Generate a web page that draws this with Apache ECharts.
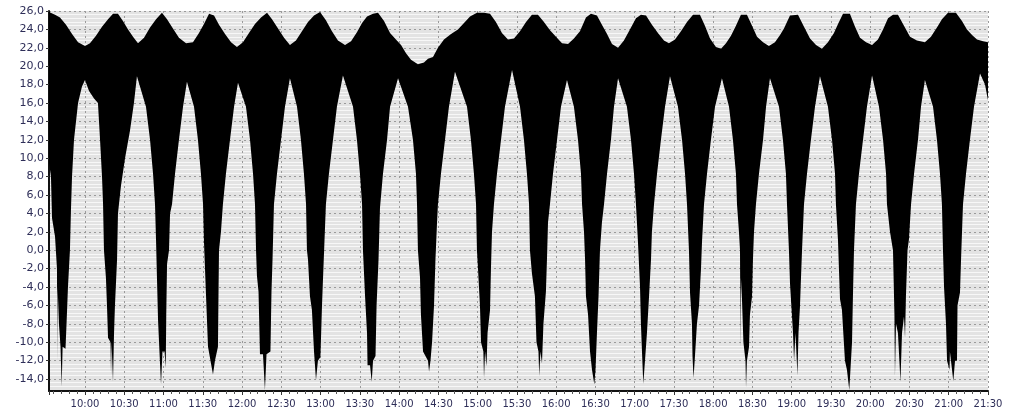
<!DOCTYPE html>
<html>
<head>
<meta charset="utf-8">
<script src="https://cdn.jsdelivr.net/npm/echarts@6/dist/echarts.min.js"></script>
<style>
  html, body { margin: 0; padding: 0; background: #fff; }
  #chart { width: 1013px; height: 413px; }
</style>
</head>
<body>
<div id="chart"></div>
<script>
// time in minutes after midnight, value of the signal envelope
const upperTime = [
  572.5, 577.1, 580.9, 585.5, 590.1, 594.7, 600.0,
  603.8, 608.4, 613.0, 617.6, 621.4, 625.2, 629.0, 632.9, 636.7, 640.5,
  645.1, 649.7, 654.3, 658.8, 662.7, 667.2, 671.8, 677.2,
  682.5, 687.1, 690.9, 694.8, 698.6, 702.4, 707.0, 711.6, 716.1,
  720.7, 725.3, 729.9, 734.5, 739.1, 742.9, 747.5, 752.1, 756.6,
  761.2, 765.8, 770.4, 775.0, 779.6, 784.1, 788.7, 793.3, 798.7,
  803.3, 807.8, 811.7, 815.5, 820.1, 823.9, 828.5, 833.1, 837.6, 841.5, 845.3, 849.1, 854.4,
  859.0, 862.1, 865.9, 869.7, 874.3, 879.7, 885.0, 889.6, 894.2, 899.5,
  904.9, 909.5, 914.0, 918.6, 923.2, 927.8, 932.4, 937.0, 941.5, 946.1,
  950.7, 955.3, 959.9, 964.5, 969.1, 973.6, 978.2, 982.8, 986.6, 991.2,
  995.0, 998.9, 1002.7, 1007.3, 1011.8, 1016.4, 1021.0, 1024.8, 1028.7,
  1033.2, 1037.8, 1042.4, 1046.2, 1050.8, 1055.4, 1060.0, 1064.6, 1069.9,
  1073.7, 1077.6, 1082.1, 1086.0, 1089.8, 1093.6, 1097.4, 1101.2, 1105.8,
  1109.7, 1113.5, 1118.1, 1122.6, 1127.2, 1131.1, 1134.1, 1138.7, 1144.8,
  1149.4, 1154.0, 1158.6, 1163.1, 1167.7, 1172.3, 1175.4, 1179.2, 1184.5,
  1188.4, 1192.2, 1196.8, 1201.4, 1205.9, 1209.8, 1213.6, 1217.4, 1221.2,
  1225.8, 1230.4, 1235.7, 1241.8, 1246.4, 1251.0, 1254.8, 1259.4, 1265.5,
  1270.1, 1273.9, 1277.8, 1281.6, 1286.2, 1290.0
]
const upperValue = [
  25.9, 25.6, 25.3, 24.5, 23.5, 22.6, 22.2,
  22.5, 23.3, 24.3, 25.1, 25.7, 25.7, 24.9, 24.0, 23.2, 22.5,
  23.1, 24.2, 25.1, 25.8, 25.1, 24.1, 23.1, 22.5,
  22.6, 23.6, 24.6, 25.7, 25.5, 24.5, 23.5, 22.6, 22.1,
  22.6, 23.6, 24.6, 25.3, 25.8, 25.1, 24.1, 23.1, 22.3,
  22.8, 23.8, 24.8, 25.5, 25.9, 25.0, 23.8, 22.8, 22.3,
  22.7, 23.7, 24.7, 25.4, 25.7, 25.8, 24.9, 23.6, 22.9, 22.3, 21.4, 20.7, 20.2,
  20.4, 20.8, 21.0, 22.0, 22.9, 23.5, 24.0, 24.7, 25.4, 25.8,
  25.8, 25.7, 24.8, 23.6, 22.9, 23.0, 23.8, 24.8, 25.6, 25.6,
  24.8, 23.9, 23.2, 22.5, 22.4, 23.0, 23.8, 25.3, 25.7, 25.5,
  24.5, 23.5, 22.4, 22.0, 22.8, 24.0, 25.2, 25.6, 25.5,
  24.5, 23.6, 22.8, 22.5, 22.9, 23.8, 24.8, 25.6, 25.6,
  24.4, 23.0, 22.1, 21.9, 22.5, 23.3, 24.4, 25.6, 25.6,
  24.4, 23.2, 22.6, 22.2, 22.6, 23.4, 24.1, 25.5, 25.6,
  24.3, 23.0, 22.3, 21.9, 22.6, 23.6, 24.6, 25.7, 25.7,
  24.3, 23.1, 22.6, 22.3, 22.9, 24.0, 25.2, 25.6, 25.6,
  24.4, 23.2, 22.8, 22.6, 23.2, 24.2, 25.1, 25.8, 25.8,
  24.9, 24.0, 23.4, 22.9, 22.7, 22.6
]
const lowerTime = [
  572.5, 574.0, 574.8, 577.1, 578.6, 578.8, 579.1, 580.1, 581.3, 582.2, 582.9, 585.1, 585.9, 587.0, 588.5,
  589.3, 590.1, 591.6, 594.7, 597.7, 600.0,
  603.1, 606.9, 609.9, 611.5, 613.0, 613.8, 614.5, 616.0, 616.8, 617.6, 619.5, 619.9, 620.3, 621.4,
  622.2, 622.9, 624.5, 625.2, 627.5, 630.6, 634.4, 637.4, 639.7,
  646.6, 649.7, 652.0, 653.5, 654.3, 655.0, 655.8, 656.9, 658.1, 659.2, 660.8, 661.7, 662.1, 662.7, 664.2, 665.0, 666.5,
  668.8, 671.8, 674.9, 677.9,
  683.3, 686.3, 688.6, 690.2, 690.9, 691.7, 692.5, 694.0, 695.9, 697.8, 699.3, 701.6, 702.0, 702.4, 703.9, 705.4,
  707.7, 710.8, 713.9, 716.9,
  723.0, 726.1, 728.4, 729.9, 730.7, 731.4, 732.6, 733.7, 736.0, 737.5, 738.7, 741.7, 742.5, 743.3, 744.4,
  746.7, 749.8, 752.8, 756.6,
  762.0, 765.0, 767.3, 768.9, 769.6, 770.4, 771.9, 773.4, 775.0, 776.5, 778.0, 779.9, 781.1, 781.9, 783.0, 784.1,
  786.4, 789.5, 792.5, 797.1,
  804.8, 807.8, 810.1, 811.7, 812.4, 813.2, 814.0, 815.5, 815.9, 817.8, 819.1, 820.1, 822.0, 822.8, 824.3, 825.4,
  827.7, 830.8, 833.1, 839.2,
  846.8, 850.6, 852.9, 853.7, 854.4, 856.0, 856.7, 858.3, 862.1, 862.9, 864.0, 865.2, 866.7, 867.8, 869.0, 869.7,
  872.0, 875.1, 878.1, 882.7,
  891.9, 894.9, 897.2, 898.8, 899.5, 900.3, 901.8, 902.6, 904.4, 904.9, 905.7, 906.8, 907.6, 909.5, 910.2, 911.0, 912.5,
  914.8, 917.9, 920.9, 926.3,
  932.4, 935.4, 937.7, 939.3, 940.0, 941.5, 943.8, 945.0, 946.5, 947.1, 948.0, 949.2, 950.3, 952.2, 953.0, 953.8, 955.3,
  957.6, 960.7, 963.7, 968.3,
  973.6, 976.7, 979.0, 979.8, 981.3, 982.1, 982.8, 984.4, 985.9, 987.4, 989.2, 990.1, 991.2, 992.4, 993.5, 995.0, 996.6,
  998.9, 1001.9, 1004.2, 1007.3,
  1014.1, 1017.2, 1019.5, 1021.0, 1022.5, 1024.1, 1024.8, 1025.6, 1026.6, 1027.9, 1029.4, 1031.0, 1032.5, 1033.2, 1034.8,
  1037.1, 1040.1, 1043.2, 1047.0,
  1053.1, 1056.2, 1058.5, 1060.0, 1061.5, 1062.3, 1063.8, 1064.2, 1065.0, 1066.1, 1067.6, 1069.2, 1070.7, 1071.5, 1073.0,
  1075.3, 1078.3, 1081.4, 1086.7,
  1092.1, 1095.1, 1097.4, 1098.2, 1099.7, 1100.5, 1100.9, 1101.2, 1102.0, 1103.1, 1104.7, 1105.1, 1105.8, 1107.4, 1108.1,
  1109.7, 1110.4, 1111.2, 1112.7,
  1115.0, 1118.1, 1120.4, 1123.4,
  1130.3, 1133.3, 1135.6, 1136.4, 1137.9, 1138.7, 1139.8, 1141.0, 1141.8, 1142.9, 1144.4, 1145.2, 1146.3, 1147.1, 1147.9, 1149.4,
  1151.7, 1154.7, 1157.8, 1161.6,
  1167.7, 1170.8, 1173.1, 1173.8, 1175.4, 1176.1, 1176.9, 1178.4, 1180.7, 1182.2, 1184.0, 1184.9, 1186.1, 1186.8, 1187.6, 1189.1,
  1191.4, 1194.5, 1197.5, 1201.4,
  1206.7, 1209.8, 1212.1, 1212.8, 1215.1, 1217.4, 1218.5, 1218.9, 1219.7, 1221.2, 1223.1, 1224.3, 1225.8, 1226.6, 1227.3,
  1228.5, 1229.6, 1231.2,
  1233.5, 1236.5, 1238.8, 1241.8,
  1248.0, 1251.0, 1253.3, 1254.8, 1255.6, 1256.4, 1257.9, 1258.7, 1260.6, 1260.9, 1263.5, 1264.8, 1266.3, 1266.7, 1268.6,
  1269.4, 1270.9,
  1273.2, 1276.2, 1279.3, 1283.9, 1287.7, 1290.0
]
const lowerValue = [
  9.5, 8, 3.5, 1.5, -2, -12, -4, -8, -10.5, -14.8, -10.5, -10.7, -8, -4, 0,
  4.5, 8, 12, 16, 17.8, 18.5,
  17.3, 16.5, 16, 12, 8, 5, 0, -3, -6, -9.5, -10, -13.5, -10, -14.3,
  -9, -6, -1, 4, 7, 10, 13, 16, 18.9,
  15.6, 12, 8.3, 5, 1, -3, -7.5, -11, -14.6, -11, -11, -12.8, -7, -1.5, 0, 4, 5,
  8.3, 12, 15.6, 18.3,
  15.6, 12, 8.3, 5, 1, -2, -5, -10.5, -12, -13.5, -12, -10.5, -5, 0, 2, 5,
  8.3, 12, 15.6, 18.2,
  15.6, 12, 8.3, 5, 0, -2.8, -4.5, -11.3, -11.3, -15.2, -11.3, -11, -4.5, -1, 5,
  8.3, 12, 15.6, 18.7,
  15.6, 12, 8.3, 5, 0, -1, -5, -6.5, -11, -14.1, -12, -11.6, -6, -3, 1, 5,
  8.3, 12, 15.6, 19.0,
  15.6, 12, 8.3, 5, 0, -2.5, -5, -9, -12.5, -12.5, -14.3, -12, -11.5, -6, -1, 4.6,
  8.3, 12, 15.6, 18.7,
  15.6, 12, 8.3, 5, 0, -3, -7, -11, -12, -13.2, -12, -10, -6, -1, 3, 5,
  8.3, 12, 15.6, 19.4,
  15.6, 12, 8.3, 5, 0, -2, -6, -10, -11, -13.9, -11, -12.6, -9, -6.5, -2, 2, 5,
  8.3, 12, 15.6, 19.6,
  15.6, 12, 8.3, 5, 0, -2.5, -5, -10, -11, -13.7, -11, -12.3, -8, -4.5, -1, 3, 5,
  8.3, 12, 15.6, 18.5,
  15.6, 12, 8.3, 5, 2, -1, -5, -7, -11, -13, -14.6, -13, -9, -5, 0, 3, 5,
  8.3, 12, 15.6, 18.7,
  15.6, 12, 8.3, 5, 1, -4, -8, -11, -14.5, -12, -9, -5, -1, 2, 5,
  8.3, 12, 15.6, 18.9,
  15.6, 12, 8.3, 5, 0, -4.6, -8, -11.5, -13.9, -11.5, -8, -6, -2, 1, 5,
  8.3, 12, 15.6, 18.7,
  15.6, 12, 8.3, 5, 2, 0, -10.8, -3, -5.3, -10, -12, -14.9, -12, -10.5, -7,
  -5, -1, 2, 5,
  8.3, 12, 15.6, 18.7,
  15.6, 12, 8.3, 5, 0, -3.6, -6.2, -9, -12, -9, -13.6, -9, -6.2, -3, 0, 5,
  8.3, 12, 15.6, 18.9,
  15.6, 12, 8.3, 5, 1, -2, -5.3, -6.5, -12, -13, -15.2, -13, -10, -5, 0, 5,
  8.3, 12, 15.6, 19.0,
  15.6, 12, 8.3, 5, 2, 0, -7, -13.7, -8, -9, -14.3, -9, -7.2, -9.5, -5,
  0, 1.2, 5,
  8.3, 12, 15.6, 18.5,
  15.6, 12, 8.3, 5, 0, -4, -8, -12, -13, -11, -14.2, -12, -12, -6, -4.6,
  -1, 5,
  8.3, 12, 15.6, 19.2, 18, 16.3
]

const labelColor = '#2e2e58'

function clock(v) {
  const h = Math.floor(v / 60)
  const m = Math.round(v - h * 60)
  return (h < 10 ? '0' : '') + h + ':' + (m < 10 ? '0' : '') + m
}

const chart = echarts.init(document.getElementById('chart'), null, { renderer: 'canvas' })

chart.setOption({
  animation: false,
  backgroundColor: '#fff',
  grid: {
    left: 49, right: 25, top: 11, bottom: 22,
    show: true, backgroundColor: '#e3e3e3', borderWidth: 0,
  },
  xAxis: {
    type: 'value',
    min: 572.5,
    max: 1290,
    minInterval: 30,
    maxInterval: 30,
    axisLine: { show: true, onZero: false, lineStyle: { color: '#111', width: 2 } },
    axisTick: { show: true, length: 4, lineStyle: { color: '#333' } },
    minorTick: { show: true, splitNumber: 5, length: 3, lineStyle: { color: '#555' } },
    axisLabel: {
      showMinLabel: false, showMaxLabel: true,
      formatter: clock, color: labelColor, fontSize: 10,
      fontFamily: 'DejaVu Sans', margin: 8,
    },
    splitLine: { show: true, lineStyle: { color: '#9a9a9a', width: 1, type: [2, 3] } },
  },
  yAxis: {
    type: 'value',
    min: -15.3,
    max: 26,
    minInterval: 2,
    maxInterval: 2,
    axisLine: { show: true, onZero: false, lineStyle: { color: '#111', width: 2 } },
    axisTick: { show: true, length: 3, lineStyle: { color: '#333' } },
    axisLabel: {
      showMinLabel: false,
      formatter: (v) => v.toFixed(1).replace('.', ','),
      color: labelColor, fontSize: 11, fontFamily: 'DejaVu Sans', margin: 5,
    },
    splitLine: { show: true, lineStyle: { color: '#9a9a9a', width: 1, type: [2, 3] } },
    minorTick: { show: false, splitNumber: 5 },
    minorSplitLine: { show: true, lineStyle: { color: '#f7f7f7', width: 1 } },
  },
  series: [
    {
      // signal band between the lower and upper envelope
      type: 'custom',
      coordinateSystem: 'cartesian2d',
      silent: true,
      clip: true,
      data: [[upperTime[0], upperValue[0]]],
      renderItem: function (params, api) {
        const points = []
        for (let i = 0; i < upperTime.length; i++) {
          points.push(api.coord([upperTime[i], upperValue[i]]))
        }
        for (let i = lowerTime.length - 1; i >= 0; i--) {
          points.push(api.coord([lowerTime[i], lowerValue[i]]))
        }
        return { type: 'polygon', shape: { points: points }, style: { fill: '#000' } }
      },
    },
  ],
})
</script>
</body>
</html>
